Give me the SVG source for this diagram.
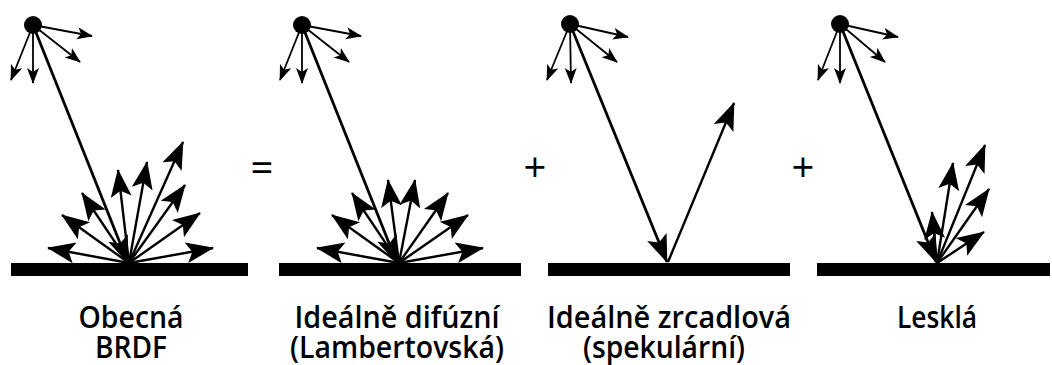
<svg xmlns="http://www.w3.org/2000/svg" width="1052" height="365" viewBox="0 0 1052 365">
<style>
.bg{fill:#fff}
.bar{fill:#000}
.dot{fill:#000}
.inc{stroke:#000;stroke-width:2.8;fill:none;marker-end:url(#big)}
.out{stroke:#000;stroke-width:2.4;fill:none;marker-end:url(#big)}
.src{stroke:#000;stroke-width:1.8;fill:none;marker-end:url(#small)}
.lbl{font-family:"Open Sans","Liberation Sans",sans-serif;font-weight:600;font-size:31px;fill:#000;text-anchor:middle}
.op{font-family:"Open Sans","Liberation Sans",sans-serif;font-weight:400;font-size:40px;fill:#000;text-anchor:middle}
</style>
<defs>
<marker id="big" markerUnits="userSpaceOnUse" markerWidth="30" markerHeight="24" refX="27" refY="10.5" orient="auto" viewBox="0 0 30 24">
<path d="M0,0 L28,10.5 L0,21 L6,10.5 z" fill="#000"/>
</marker>
<marker id="small" markerUnits="userSpaceOnUse" markerWidth="18" markerHeight="14" refX="15" refY="6" orient="auto" viewBox="0 0 18 14">
<path d="M0,0 L16,6 L0,12 L4,6 z" fill="#000"/>
</marker>
</defs>
<rect class="bg" x="0" y="0" width="1052" height="365"/>

<g id="panel-general">
<circle class="dot" cx="33" cy="25" r="9"/>
<rect class="bar" x="11" y="263" width="237" height="13"/>
<text class="lbl" x="131" y="328" textLength="105" lengthAdjust="spacingAndGlyphs">Obecná</text>
<text class="lbl" x="131" y="358" textLength="72" lengthAdjust="spacingAndGlyphs">BRDF</text>
</g>

<g id="op-equals"><text class="op" x="262" y="182">=</text></g>

<g id="panel-diffuse">
<circle class="dot" cx="302" cy="25" r="9"/>
<rect class="bar" x="279" y="263" width="242" height="13"/>
<text class="lbl" x="397" y="328" textLength="205" lengthAdjust="spacingAndGlyphs">Ideálně difúzní</text>
<text class="lbl" x="397" y="358" textLength="214" lengthAdjust="spacingAndGlyphs">(Lambertovská)</text>
</g>

<g id="op-plus-1"><text class="op" x="535" y="182">+</text></g>

<g id="panel-specular">
<circle class="dot" cx="570" cy="24" r="9"/>
<rect class="bar" x="548" y="263" width="242" height="13"/>
<text class="lbl" x="669" y="328" textLength="244" lengthAdjust="spacingAndGlyphs">Ideálně zrcadlová</text>
<text class="lbl" x="664" y="358" textLength="162" lengthAdjust="spacingAndGlyphs">(spekulární)</text>
</g>

<g id="op-plus-2"><text class="op" x="803" y="182">+</text></g>

<g id="panel-glossy">
<circle class="dot" cx="840" cy="24" r="9"/>
<rect class="bar" x="817" y="263" width="233" height="13"/>
<text class="lbl" x="937" y="328" textLength="80" lengthAdjust="spacingAndGlyphs">Lesklá</text>
</g>

<g id="connectors">
<line class="src" x1="33" y1="25" x2="11" y2="80"/>
<line class="src" x1="33" y1="25" x2="33" y2="83"/>
<line class="src" x1="33" y1="25" x2="92" y2="36"/>
<line class="src" x1="33" y1="25" x2="80" y2="62"/>
<line class="inc" x1="33" y1="25" x2="128" y2="263"/>
<line class="out" x1="129" y1="263" x2="48" y2="248"/>
<line class="out" x1="129" y1="263" x2="62" y2="215"/>
<line class="out" x1="129" y1="263" x2="82" y2="193"/>
<line class="out" x1="129" y1="263" x2="118" y2="170"/>
<line class="out" x1="129" y1="263" x2="147" y2="162"/>
<line class="out" x1="129" y1="263" x2="183" y2="142"/>
<line class="out" x1="129" y1="263" x2="185" y2="185"/>
<line class="out" x1="129" y1="263" x2="200" y2="213"/>
<line class="out" x1="129" y1="263" x2="213" y2="248"/>
<line class="src" x1="302" y1="25" x2="280" y2="80"/>
<line class="src" x1="302" y1="25" x2="302" y2="83"/>
<line class="src" x1="302" y1="25" x2="361" y2="36"/>
<line class="src" x1="302" y1="25" x2="349" y2="62"/>
<line class="inc" x1="302" y1="25" x2="397" y2="263"/>
<line class="out" x1="399" y1="263" x2="317" y2="248"/>
<line class="out" x1="399" y1="263" x2="332" y2="215"/>
<line class="out" x1="399" y1="263" x2="352" y2="193"/>
<line class="out" x1="399" y1="263" x2="388" y2="180"/>
<line class="out" x1="399" y1="263" x2="415" y2="180"/>
<line class="out" x1="399" y1="263" x2="448" y2="193"/>
<line class="out" x1="399" y1="263" x2="468" y2="215"/>
<line class="out" x1="399" y1="263" x2="483" y2="248"/>
<line class="src" x1="570" y1="24" x2="547" y2="80"/>
<line class="src" x1="570" y1="24" x2="571" y2="83"/>
<line class="src" x1="570" y1="24" x2="628" y2="37"/>
<line class="src" x1="570" y1="24" x2="617" y2="62"/>
<line class="inc" x1="570" y1="24" x2="667" y2="262"/>
<line class="out" x1="668" y1="262" x2="734" y2="103"/>
<line class="src" x1="840" y1="24" x2="818" y2="80"/>
<line class="src" x1="840" y1="24" x2="840" y2="83"/>
<line class="src" x1="840" y1="24" x2="898" y2="37"/>
<line class="src" x1="840" y1="24" x2="885" y2="62"/>
<line class="inc" x1="840" y1="24" x2="936" y2="262"/>
<line class="out" x1="937" y1="263" x2="932" y2="212"/>
<line class="out" x1="937" y1="263" x2="953" y2="163"/>
<line class="out" x1="937" y1="263" x2="985" y2="145"/>
<line class="out" x1="937" y1="263" x2="989" y2="189"/>
<line class="out" x1="937" y1="263" x2="984" y2="232"/>
</g>
</svg>
